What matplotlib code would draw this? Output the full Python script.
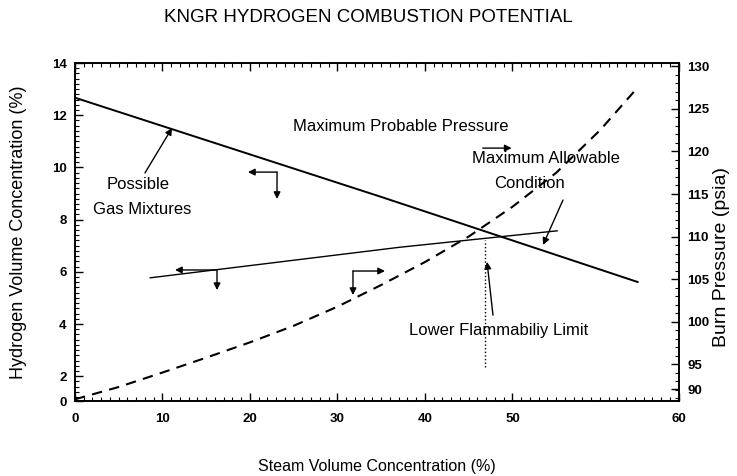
import matplotlib.pyplot as plt
from matplotlib.ticker import MultipleLocator

plt.rcParams['font.family'] = ['Liberation Sans', 'DejaVu Sans']

# Upper solid line (left axis, hydrogen %)
steam_upper = [0, 34.9, 64.3]
h2_upper = [12.67, 8.88, 5.61]

# Lower solid line (left axis)
steam_lower = [8.6, 37.1, 55.1]
h2_lower = [5.77, 6.94, 7.57]

# Dashed burn pressure curve (right axis, psia)
steam_press = [0, 5, 10, 15, 20, 25, 30, 35, 40, 45, 50, 55, 60, 64.2]
burn_pressure = [90.85, 92.3, 94.0, 95.75, 97.55, 99.5, 101.75, 104.3,
                 107.0, 110.0, 113.5, 117.5, 122.5, 127.4]

# Lower flammability limit (dotted vertical)
lfl_steam = [46.9, 46.9]
lfl_h2 = [2.35, 7.22]

# Axis tick labels (the outermost labels sit at the axis ends)
x_tick_pos = [0, 10, 20, 30, 40, 50, 69.03]
x_tick_lab = ['0', '10', '20', '30', '40', '50', '60']
y_tick_pos = [1.05, 2, 4, 6, 8, 10, 12, 14]
y_tick_lab = ['0', '2', '4', '6', '8', '10', '12', '14']
p_tick_pos = [92.06, 95, 100, 105, 110, 115, 120, 125, 130]
p_tick_lab = ['90', '95', '100', '105', '110', '115', '120', '125', '130']

fig = plt.figure(figsize=(7.37, 4.76), dpi=100)
ax = fig.add_axes([75 / 737, 1 - 401 / 476, 604 / 737, 338 / 476])
ax2 = ax.twinx()

ax.plot(steam_upper, h2_upper, color='black', lw=1.4)
ax.plot(steam_lower, h2_lower, color='black', lw=1.0)
ax.plot(lfl_steam, lfl_h2, color='black', lw=1.0, linestyle=(0, (1, 1.6)))
ax2.plot(steam_press, burn_pressure, color='black', lw=1.5, linestyle=(0, (5, 3.5)))

ax.set_xlim(0, 69.03)
ax.set_ylim(1.05, 14)
ax2.set_ylim(90.65, 130.41)

ax.set_xticks(x_tick_pos, x_tick_lab)
ax.set_yticks(y_tick_pos, y_tick_lab)
ax2.set_yticks(p_tick_pos, p_tick_lab)
ax.xaxis.set_minor_locator(MultipleLocator(1))
ax.yaxis.set_minor_locator(MultipleLocator(0.2))
ax2.yaxis.set_minor_locator(MultipleLocator(1))

for a in (ax, ax2):
    a.tick_params(which='major', direction='in', length=6, width=1.0,
                  labelsize=9.5, pad=6)
    a.tick_params(which='minor', direction='in', length=3, width=0.8)
    for s in a.spines.values():
        s.set_linewidth(1.2)
ax.tick_params(which='both', top=True)
ax.tick_params(axis='x', pad=9)
for lab in ax.get_xticklabels() + ax.get_yticklabels() + ax2.get_yticklabels():
    lab.set_fontweight('bold')

ax.set_xlabel('Steam Volume Concentration (%)', fontsize=11.5, labelpad=24)
ax.set_ylabel('Hydrogen Volume Concentration (%)', fontsize=13, labelpad=18)
fig.text(722 / 737, 1 - 257 / 476, 'Burn Pressure (psia)', rotation=90,
         ha='center', va='center', fontsize=14)

fig.text(0.5, 1 - 18 / 476, 'KNGR HYDROGEN COMBUSTION POTENTIAL',
         ha='center', va='center', fontsize=13.5)

# Annotation text
fs = 12
ax.text(24.9, 11.55, 'Maximum Probable Pressure', fontsize=fs, va='center')
ax.text(45.4, 10.36, 'Maximum Allowable', fontsize=fs, va='center')
ax.text(47.9, 9.40, 'Condition', fontsize=fs, va='center')
ax.text(3.66, 9.33, 'Possible', fontsize=fs, va='center')
ax.text(2.06, 8.37, 'Gas Mixtures', fontsize=fs, va='center')
ax.text(38.2, 3.77, 'Lower Flammabiliy Limit', fontsize=fs, va='center')

arrow = dict(arrowstyle='-|>', color='black', lw=1.0,
             mutation_scale=10, shrinkA=0, shrinkB=0)

# pointer arrows
ax.annotate('', xy=(11.09, 11.51), xytext=(8.0, 9.79), arrowprops=arrow)
ax.annotate('', xy=(53.49, 7.03), xytext=(55.77, 8.75), arrowprops=arrow)
ax.annotate('', xy=(47.09, 6.38), xytext=(47.77, 4.34), arrowprops=arrow)
ax.annotate('', xy=(49.9, 10.74), xytext=(46.6, 10.74), arrowprops=arrow)

# axis brackets: (corner, horizontal end, vertical end)
brackets = [((23.09, 9.82), (19.77, 9.82), (23.09, 8.79)),
            ((16.23, 6.07), (11.43, 6.07), (16.23, 5.30)),
            ((31.77, 6.03), (35.43, 6.03), (31.77, 5.11))]
for corner, hend, vend in brackets:
    ax.annotate('', xy=hend, xytext=corner, arrowprops=arrow)
    ax.annotate('', xy=vend, xytext=corner, arrowprops=arrow)

fig.savefig('out.png', dpi=100)
